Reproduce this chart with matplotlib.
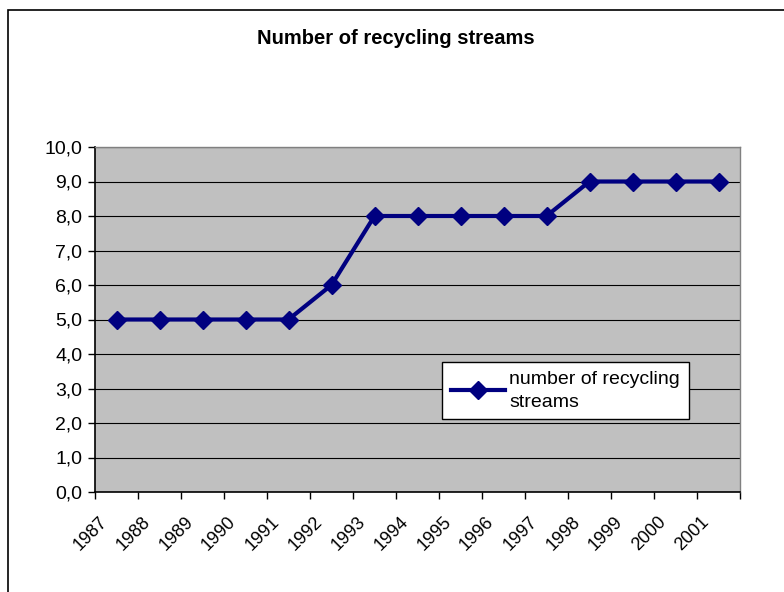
import matplotlib
matplotlib.use("Agg")
import matplotlib.pyplot as plt
from matplotlib.patches import Rectangle
from matplotlib.ticker import FixedLocator, NullFormatter

years = ["1987", "1988", "1989", "1990", "1991", "1992", "1993", "1994",
         "1995", "1996", "1997", "1998", "1999", "2000", "2001"]
streams = [5, 5, 5, 5, 5, 6, 8, 8, 8, 8, 8, 9, 9, 9, 9]
yticks = [0, 1, 2, 3, 4, 5, 6, 7, 8, 9, 10]
ytick_labels = ["0,0", "1,0", "2,0", "3,0", "4,0", "5,0", "6,0", "7,0", "8,0", "9,0", "10,0"]
title = "Number of recycling streams"
series_name = "number of recycling\nstreams"

plt.rcParams['font.family'] = ['Liberation Sans', 'DejaVu Sans']

W, H = 784, 592
fig = plt.figure(figsize=(W / 100, H / 100), dpi=100)
fig.patch.set_facecolor('white')

# chart-area border (partly cropped at right/bottom)
fig.patches.append(Rectangle((8 / W, -0.1), 1.2, 1 - 10 / H + 0.1,
                             transform=fig.transFigure, fill=False,
                             edgecolor='black', linewidth=1.2))

ax = fig.add_axes([95 / W, 1 - 492 / H, (740 - 95) / W, (492 - 147) / H])
ax.set_facecolor('#C0C0C0')

x = list(range(len(years)))
ax.plot(x, streams, color='#000080', linewidth=3, marker='D', markersize=9,
        markerfacecolor='#000080', markeredgecolor='#000080',
        label=series_name, zorder=3)

ax.set_xlim(-0.5, len(years) - 0.5)
ax.set_ylim(0, 10)
ax.set_yticks(yticks)
ax.set_yticklabels(ytick_labels, fontsize=14)
ax.yaxis.grid(True, color='black', linewidth=0.8)
ax.set_axisbelow(True)

ax.xaxis.set_major_locator(FixedLocator([i - 0.5 for i in range(len(years) + 1)]))
ax.xaxis.set_major_formatter(NullFormatter())
ax.tick_params(axis='x', direction='out', length=5, width=1, color='black')
ax.tick_params(axis='y', direction='out', length=5, width=1, color='black', pad=4)

for i, lab in enumerate(years):
    ax.annotate(lab, xy=(i, 0), xycoords='data', xytext=(-13, -15.5),
                textcoords='offset points', rotation=45, ha='right', va='top',
                rotation_mode='anchor', fontsize=13)

for s in ['top', 'right']:
    ax.spines[s].set_color('#808080')
    ax.spines[s].set_linewidth(1)
for s in ['left', 'bottom']:
    ax.spines[s].set_color('black')
    ax.spines[s].set_linewidth(1.2)

fig.text(0.5 * (1 + 8 / W), 1 - 39 / H, title, ha='center', va='center',
         fontsize=14.5, fontweight='bold')

leg = ax.legend(loc='upper left', bbox_to_anchor=((442 - 95) / 645, (492 - 362) / 345),
                fontsize=14, frameon=True, fancybox=False, framealpha=1,
                edgecolor='black', borderpad=0.45, handlelength=2.8,
                handletextpad=0.2, borderaxespad=0)
leg.get_frame().set_linewidth(1)
for t in leg.get_texts():
    t.set_linespacing(1.45)

fig.savefig('out.png', dpi=100)
